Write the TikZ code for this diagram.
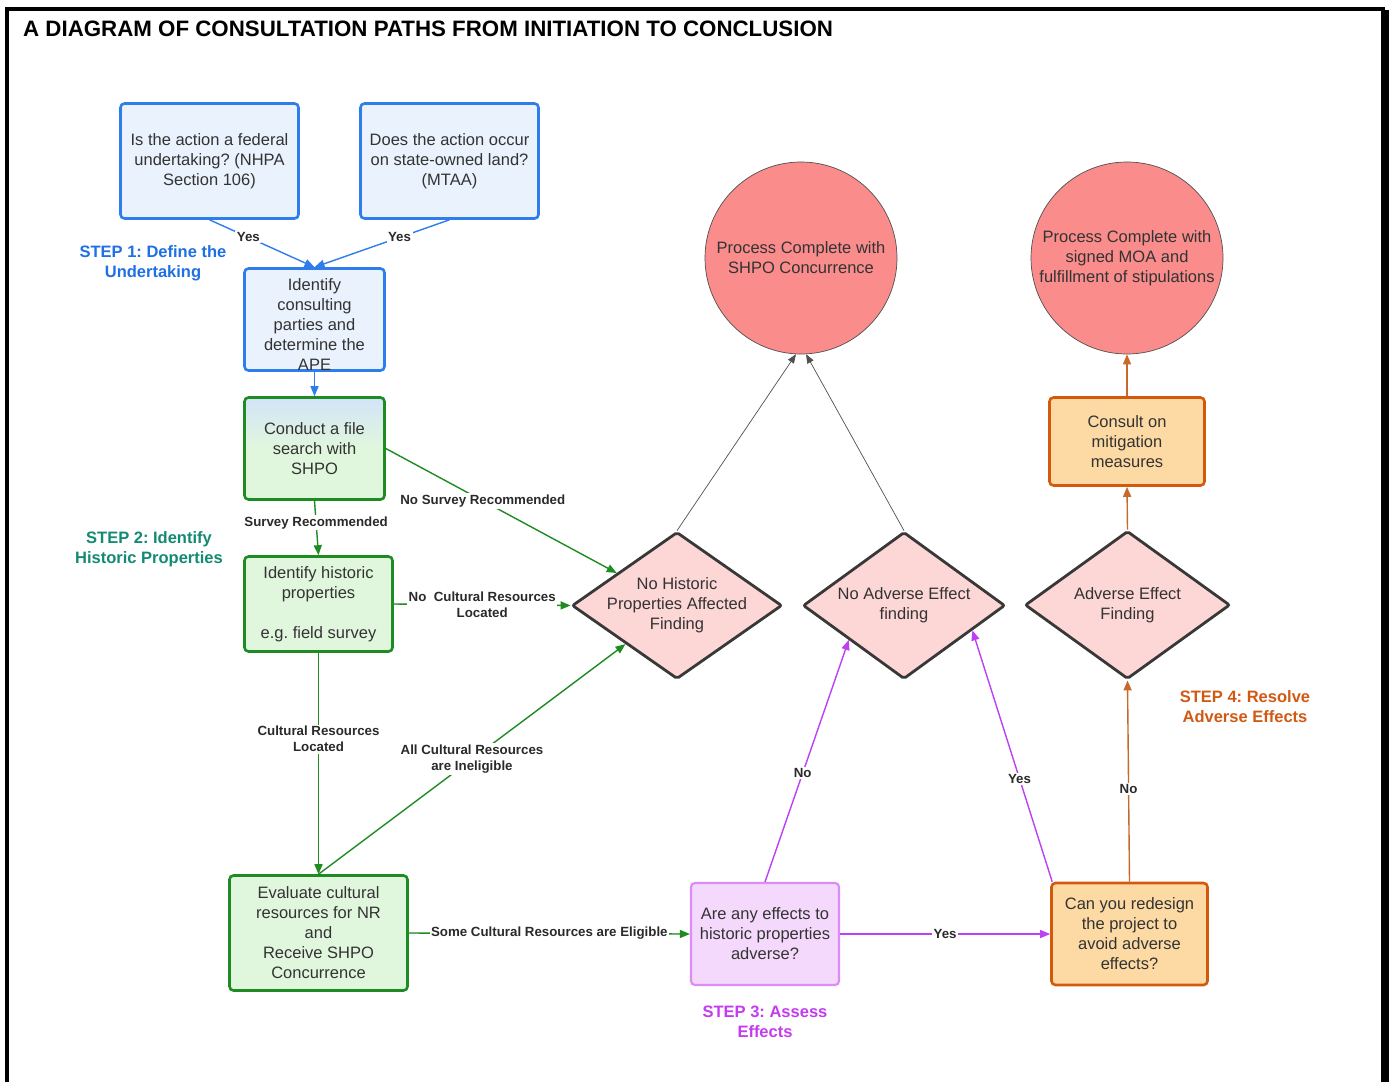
\documentclass[tikz,border=0pt]{standalone}
\usepackage{fontspec}
\setmainfont{Liberation Sans}
\usetikzlibrary{arrows.meta,shapes.geometric}
\definecolor{bluec}{HTML}{2E7DEB}
\definecolor{bluef}{HTML}{EAF2FD}
\definecolor{bluet}{HTML}{1F6FE5}
\definecolor{greenc}{HTML}{1E8C23}
\definecolor{greenf}{HTML}{E1F7DD}
\definecolor{greent}{HTML}{138A72}
\definecolor{gradtop}{HTML}{D2E4F8}
\definecolor{purpc}{HTML}{DC8CF6}
\definecolor{purpf}{HTML}{F5D9FD}
\definecolor{purpa}{HTML}{BD40F5}
\definecolor{purpt}{HTML}{C53BF0}
\definecolor{orac}{HTML}{D35A0C}
\definecolor{oraf}{HTML}{FDDAA3}
\definecolor{oraa}{HTML}{C8692A}
\definecolor{orat}{HTML}{D05A14}
\definecolor{diaf}{HTML}{FDD6D6}
\definecolor{diac}{HTML}{383838}
\definecolor{circf}{HTML}{FA8C8C}
\definecolor{txtc}{HTML}{333333}
\definecolor{lblc}{HTML}{2A2A2A}
\definecolor{grayc}{HTML}{505050}
\frenchspacing
\tikzset{
  box/.style={draw, rounded corners=4pt, line width=2.6pt, align=center, inner sep=0pt,
    font=\fontsize{16.5}{20}\selectfont, text=txtc},
  bluebox/.style={box, draw=bluec, fill=bluef},
  greenbox/.style={box, draw=greenc, fill=greenf},
  purpbox/.style={box, draw=purpc, fill=purpf, line width=2.2pt},
  orabox/.style={box, draw=orac, fill=oraf},
  dia/.style={diamond, draw=diac, fill=diaf, line width=2.8pt, inner sep=0pt, rounded corners=2pt},
  dtext/.style={align=center, inner sep=0pt, font=\fontsize{16.5}{20}\selectfont, text=txtc},
  endcirc/.style={circle, draw=grayc, fill=circf, line width=0.7pt, minimum size=192pt, inner sep=0pt,
    align=center, font=\fontsize{16.5}{20}\selectfont, text=txtc},
  lbl/.style={fill=white, inner sep=1.5pt, font=\fontsize{13.3}{16}\bfseries\selectfont, text=lblc, align=center},
  steplbl/.style={align=center, inner sep=0pt, font=\fontsize{16.5}{20}\bfseries\selectfont},
  conn/.style={line width=1.4pt, -{Triangle[length=10pt,width=8pt]}},
  bconn/.style={conn, draw=bluec},
  gconn/.style={conn, draw=greenc, fill=greenc},
  pconn/.style={conn, draw=purpa},
  oconn/.style={conn, draw=oraa},
  kconn/.style={draw=grayc, line width=0.7pt, -{Triangle[length=9pt,width=7pt]}},
}
\begin{document}
\begin{tikzpicture}[x=1pt,y=-1pt]
\useasboundingbox (0,0) rectangle (1389,1082);
\fill[white] (0,0) rectangle (1389,1082);
% frame
\fill[black] (5,7) rectangle (9,1082);
\fill[black] (5,7) rectangle (1385,11);
\fill[black] (1381,10) rectangle (1389,1082);

\node[anchor=base west, inner sep=0pt, font=\fontsize{22.3}{26}\bfseries\selectfont] (title) at (23,36)
  {A DIAGRAM OF CONSULTATION PATHS FROM INITIATION TO CONCLUSION};

% boxes
\node[bluebox, minimum width=178pt, minimum height=115pt] (q1) at (209.5,161)
  {Is the action a federal\\undertaking? (NHPA\\Section 106)};
\node[bluebox, minimum width=178pt, minimum height=115pt] (q2) at (449.5,161)
  {Does the action occur\\on state-owned land?\\(MTAA)};
\node[bluebox, minimum width=140pt, minimum height=102pt] (ident) at (314.5,319.5) {};
\node[dtext] (identt) at (314.5,324.5) {Identify\\consulting\\parties and\\determine the\\APE};
\node[greenbox, minimum width=140pt, minimum height=102pt, top color=gradtop, bottom color=greenf, middle color=greenf] (conduct) at (314.5,448.5)
  {Conduct a file\\search with\\SHPO};
\node[greenbox, minimum width=148pt, minimum height=95pt] (hist) at (318.5,604)
  {Identify historic\\properties\\[20pt]e.g. field survey};
\node[greenbox, minimum width=178pt, minimum height=115pt] (evalb) at (318.5,933)
  {Evaluate cultural\\resources for NR\\and\\Receive SHPO\\Concurrence};
\node[purpbox, minimum width=148pt, minimum height=102pt] (assess) at (765,934)
  {Are any effects to\\historic properties\\adverse?};
\node[orabox, minimum width=156pt, minimum height=102pt] (redesign) at (1129.5,934)
  {Can you redesign\\the project to\\avoid adverse\\effects?};
\node[orabox, minimum width=155pt, minimum height=88pt] (consult) at (1127,441.5)
  {Consult on\\mitigation\\measures};

% end circles
\node[endcirc] (c1) at (801,258) {Process Complete with\\SHPO Concurrence};
\node[endcirc] (c2) at (1127,258) {Process Complete with\\signed MOA and\\fulfillment of stipulations};

% diamonds
\node[dia, minimum width=210pt, minimum height=147pt] (d1) at (677,605.5) {};
\node[dtext] (d1t) at (d1.center) {No Historic\\Properties Affected\\Finding};
\node[dia, minimum width=202pt, minimum height=147pt] (d2) at (904,605.5) {};
\node[dtext] (d2t) at (d2.center) {No Adverse Effect\\finding};
\node[dia, minimum width=205pt, minimum height=148pt] (d3) at (1127.5,605) {};
\node[dtext] (d3t) at (d3.center) {Adverse Effect\\Finding};

% step labels
\node[steplbl, text=bluet] (s1) at (153,263.5) {STEP 1: Define the\\Undertaking};
\node[steplbl, text=greent] (s2) at (149,549.5) {STEP 2: Identify\\Historic Properties};
\node[steplbl, text=purpt] (s3) at (765,1022) {STEP 3: Assess\\Effects};
\node[steplbl, text=orat] (s4) at (1245,707) {STEP 4: Resolve\\Adverse Effects};

% connectors
\draw[bconn] (q1.south) -- node[lbl, pos=0.37] {Yes} (ident.north);
\draw[bconn] (q2.south) -- node[lbl, pos=0.37] {Yes} (ident.north);
\draw[bconn] (ident.south) -- (conduct.north);

\draw[gconn] (conduct.south) -- node[lbl, pos=0.4] {Survey Recommended} (hist.north);
\draw[gconn] (conduct.east) -- node[lbl, pos=0.42] {No Survey Recommended} (d1);
\draw[gconn] (hist.east) -- node[lbl, pos=0.5] {No~ Cultural Resources\\Located} (d1.west);
\draw[gconn] (hist.south) -- node[lbl, pos=0.39] {Cultural Resources\\Located} (evalb.north);
\draw[gconn] (evalb.north) -- node[lbl, pos=0.5] {All Cultural Resources\\are Ineligible} (d1);
\draw[gconn] (evalb.east) -- node[lbl, pos=0.5] {Some Cultural Resources are Eligible} (assess.west);

\draw[pconn] (assess.east) -- node[lbl, pos=0.5] {Yes} (redesign.west);
\draw[pconn] (assess.north) -- node[lbl, pos=0.45] {No} (d2.212);
\draw[pconn] (redesign.north west) ++(2,0) coordinate (rdnw) -- node[lbl, pos=0.41] {Yes} (d2.340);

\draw[oconn] (redesign.north) -- node[lbl, pos=0.46] {No} (d3.south);
\draw[oconn] (d3.north) -- (consult.south);
\draw[oconn] (consult.north) -- (c2.south);

\draw[kconn] (d1.north) -- (c1.267);
\draw[kconn] (d2.north) -- (c1.273);
\end{tikzpicture}
\end{document}
